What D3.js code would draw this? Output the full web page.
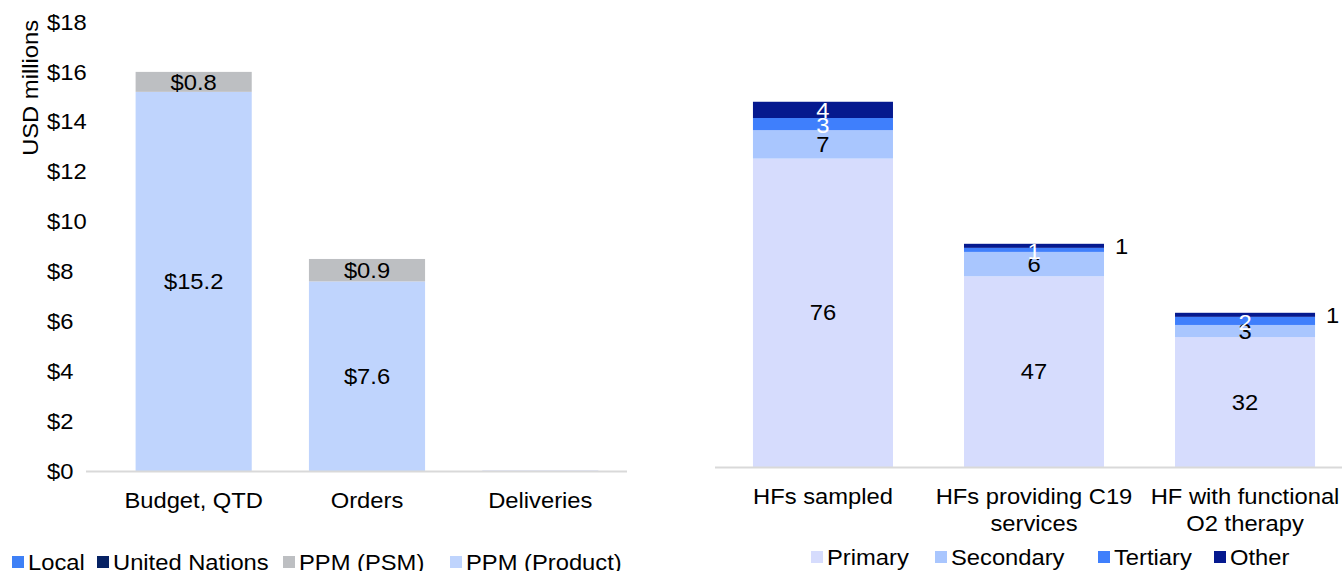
<!DOCTYPE html>
<html><head><meta charset="utf-8">
<script src="https://cdn.jsdelivr.net/npm/d3@7"></script>
<style>
html,body{margin:0;padding:0;background:#fff;overflow:hidden}
text{font-family:"Liberation Sans",Arial,sans-serif;fill:#000}
</style></head>
<body>
<svg id="c" width="1342" height="571"></svg>
<script>
// ---- Left chart data ----
const leftCategories = ["Budget, QTD", "Orders", "Deliveries"];
const leftSeries = ["PPM (Product)", "PPM (PSM)", "United Nations", "Local"];
const ppmProduct = [15.2, 7.6, 0.04];
const ppmPSM = [0.8, 0.9, 0];
const unitedNations = [0, 0, 0];
const local = [0, 0, 0];
const leftTicks = [0, 2, 4, 6, 8, 10, 12, 14, 16, 18];
const leftLegend = ["Local", "United Nations", "PPM (PSM)", "PPM (Product)"];

// ---- Right chart data ----
const rightCategories = [["HFs sampled"], ["HFs providing C19", "services"], ["HF with functional", "O2 therapy"]];
const rightSeries = ["Primary", "Secondary", "Tertiary", "Other"];
const primary = [76, 47, 32];
const secondary = [7, 6, 3];
const tertiary = [3, 1, 2];
const other = [4, 1, 1];
const otherLabelOutside = [false, true, true];

const SX = 1.08, FS = 22;
const svg = d3.select("#c");

function txt(g, x, y, s, anchor, fill, rot) {
  return g.append("text")
    .attr("transform", `translate(${x},${y})` + (rot ? ` rotate(${rot})` : "") + ` scale(${SX},1)`)
    .attr("text-anchor", anchor || "middle")
    .attr("dy", "0.35em")
    .style("font-size", FS + "px")
    .style("fill", fill || "#000")
    .text(s);
}

// ===== LEFT CHART =====
const leftColors = {"PPM (Product)": "#bfd4fd", "PPM (PSM)": "#bdbfc2", "United Nations": "#062264", "Local": "#3e80f6"};
const leftVals = {"PPM (Product)": ppmProduct, "PPM (PSM)": ppmPSM, "United Nations": unitedNations, "Local": local};
const yL = d3.scaleLinear().domain([0, 18]).range([471, 22]);
const xL = d3.scaleBand().domain(leftCategories).range([107, 627]).paddingInner(0.33).paddingOuter(0.165);

const gL = svg.append("g");
// y axis
const axL = gL.append("g").attr("transform", "translate(47,0)")
  .call(d3.axisLeft(yL).tickValues(leftTicks).tickSize(0).tickFormat(d => "$" + d));
axL.select(".domain").remove();
axL.selectAll("text").remove();
leftTicks.forEach(t => txt(gL, 47, yL(t), "$" + t, "start"));
txt(gL, 30, 20, "USD millions", "end", "#000", -90);

const stackL = d3.stack().keys(leftSeries).value((d, k) => leftVals[k][d])(leftCategories.map((c, i) => i));
stackL.forEach(layer => {
  const key = layer.key;
  layer.forEach((seg, i) => {
    const v = seg[1] - seg[0];
    if (v <= 0) return;
    const col = (i === 2) ? "#e3e7f9" : leftColors[key];
    gL.append("rect").attr("x", xL(leftCategories[i])).attr("width", xL.bandwidth())
      .attr("y", yL(seg[1])).attr("height", yL(seg[0]) - yL(seg[1])).attr("fill", col);
    if (v >= 0.5) txt(gL, xL(leftCategories[i]) + xL.bandwidth() / 2, (yL(seg[0]) + yL(seg[1])) / 2, "$" + v.toFixed(1));
  });
});
gL.append("line").attr("x1", 86).attr("x2", 627).attr("y1", 471.5).attr("y2", 471.5).attr("stroke", "#d9d9d9").attr("stroke-width", 2);
leftCategories.forEach(c => txt(gL, xL(c) + xL.bandwidth() / 2, 500, c));

// left legend
const legLsq = [12, 97, 283, 450];
leftLegend.forEach((k, i) => {
  gL.append("rect").attr("x", legLsq[i]).attr("y", 556).attr("width", 12).attr("height", 12).attr("fill", leftColors[k]);
  txt(gL, legLsq[i] + 16, 562, k, "start");
});

// ===== RIGHT CHART =====
const rightColors = {"Primary": "#d6dcfd", "Secondary": "#a9c6fe", "Tertiary": "#3f7ffc", "Other": "#05198f"};
const rightLabelColors = {"Primary": "#000", "Secondary": "#000", "Tertiary": "#fff", "Other": "#fff"};
const rightVals = {"Primary": primary, "Secondary": secondary, "Tertiary": tertiary, "Other": other};
const yR = d3.scaleLinear().domain([0, 110]).range([467, 20.6]);
const catKeys = rightCategories.map(c => c.join(" "));
const xR = d3.scaleBand().domain(catKeys).range([717.5, 1350.5]).paddingInner(0.3365).paddingOuter(0.168);
const gR = svg.append("g");
const stackR = d3.stack().keys(rightSeries).value((d, k) => rightVals[k][d])(catKeys.map((c, i) => i));
stackR.forEach(layer => {
  const key = layer.key;
  layer.forEach((seg, i) => {
    const v = seg[1] - seg[0];
    const x0 = xR(catKeys[i]);
    gR.append("rect").attr("x", x0).attr("width", xR.bandwidth())
      .attr("y", yR(seg[1])).attr("height", yR(seg[0]) - yR(seg[1])).attr("fill", rightColors[key]);
  });
});
stackR.forEach(layer => {
  const key = layer.key;
  layer.forEach((seg, i) => {
    const v = seg[1] - seg[0];
    const x0 = xR(catKeys[i]);
    const cy = (yR(seg[0]) + yR(seg[1])) / 2;
    if (key === "Other" && otherLabelOutside[i]) {
      txt(gR, x0 + xR.bandwidth() + 11, cy, String(v), "start");
    } else {
      txt(gR, x0 + xR.bandwidth() / 2, cy + (key === "Tertiary" ? 1 : 0), String(v), "middle", rightLabelColors[key]);
    }
  });
});
gR.append("line").attr("x1", 715).attr("x2", 1342).attr("y1", 467.5).attr("y2", 467.5).attr("stroke", "#d9d9d9").attr("stroke-width", 2);
rightCategories.forEach((lines, i) => {
  lines.forEach((l, j) => txt(gR, xR(catKeys[i]) + xR.bandwidth() / 2, 496 + j * 27, l));
});
const legRsq = [811, 935, 1098, 1214];
rightSeries.forEach((k, i) => {
  gR.append("rect").attr("x", legRsq[i]).attr("y", 551).attr("width", 12).attr("height", 12).attr("fill", rightColors[k]);
  txt(gR, legRsq[i] + 16, 557, k, "start");
});
</script>
</body></html>
